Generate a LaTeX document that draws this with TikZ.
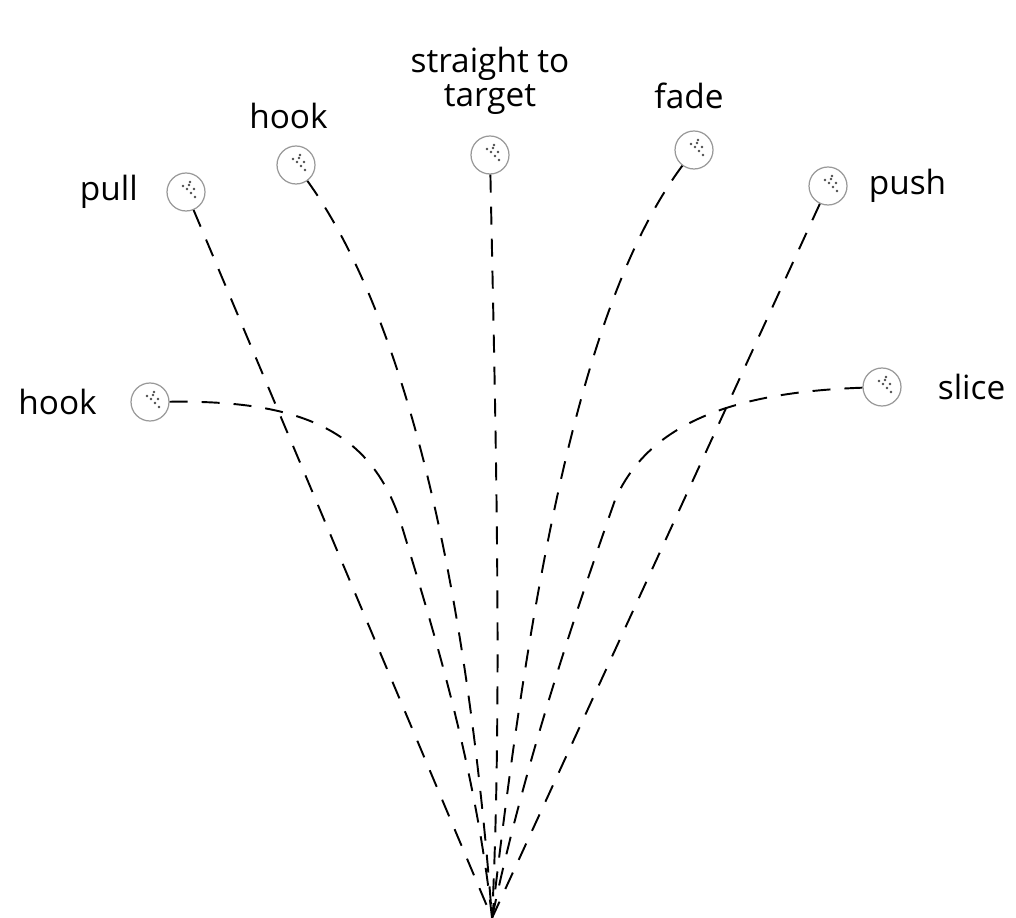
\documentclass[tikz,border=0pt]{standalone}
\usepackage{fontspec}
\setmainfont{Open Sans}
\usetikzlibrary{positioning}

\tikzset{
    ball/.style={circle, draw=gray!80, line width=0.7pt, minimum size=0.76cm, inner sep=0pt,
        path picture={
            \foreach \d in {(3,-7),(8,-3),(5,1),(9,5),(1,-3),(-3,-6),(4,-10)}
                \fill[gray!60!black] \d circle (1.4);
        }},
    tag/.style={font=\fontsize{19}{19}\selectfont, align=center},
    shot/.style={line width=1.1pt, dash pattern=on 0.36cm off 0.28cm},
}

\begin{document}
\begin{tikzpicture}[x=0.02cm, y=-0.02cm]
    \useasboundingbox (0,0) rectangle (1016,918);

    % balls
    \node[ball] (pull) at (186,192) {};
    \node[ball] (hookhigh) at (296,165) {};
    \node[ball] (straight) at (490,155) {};
    \node[ball] (fade) at (694,150) {};
    \node[ball] (push) at (828,186) {};
    \node[ball] (hooklow) at (150,402) {};
    \node[ball] (slice) at (882,387) {};

    \coordinate (tee) at (492,918);

    % labels
    \node[tag, left=0.45cm of pull] {pull};
    \node[tag, above=0.2cm of hookhigh, xshift=-0.15cm] {hook};
    \node[tag, above=0.3cm of straight] {straight to\\target};
    \node[tag, above=0.3cm of fade, xshift=-0.1cm] {fade};
    \node[tag, right=0.3cm of push] {push};
    \node[tag, left=0.55cm of hooklow] {hook};
    \node[tag, right=0.6cm of slice] {slice};

    % flight paths
    \draw[shot] (pull) -- (tee);
    \draw[shot] (hookhigh) .. controls (400,310) and (465,560) .. (tee);
    \draw[shot] (straight) .. controls (495,400) and (503,700) .. (tee);
    \draw[shot] (fade) .. controls (590,290) and (535,540) .. (tee);
    \draw[shot] (push) -- (tee);
    \draw[shot] (hooklow) .. controls (300,400) and (370,430) .. (400,520)
        .. controls (430,620) and (475,760) .. (tee);
    \draw[shot] (slice) .. controls (740,392) and (650,420) .. (615,500)
        .. controls (580,600) and (525,760) .. (tee);
\end{tikzpicture}
\end{document}
